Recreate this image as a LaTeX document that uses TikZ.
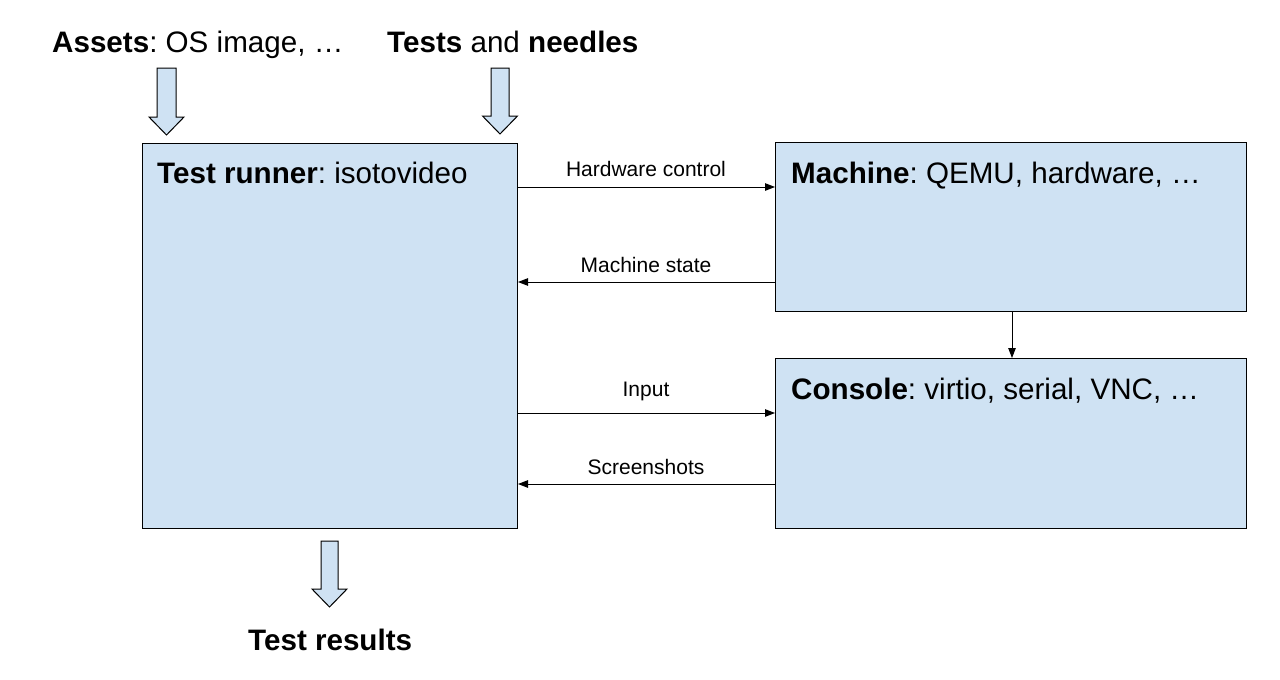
\documentclass[tikz,border=0pt]{standalone}
\usepackage{fontspec}
\setmainfont{Liberation Sans}
\usetikzlibrary{arrows.meta}
\definecolor{boxfill}{HTML}{CFE2F3}
\frenchspacing
\tikzset{
  box/.style={draw=black, fill=boxfill, line width=1pt, inner sep=0pt, anchor=north west},
  big/.style={font=\fontsize{29.6}{35}\selectfont\frenchspacing, inner sep=0pt, anchor=base west},
  small/.style={font=\fontsize{21}{25}\selectfont, inner sep=0pt, anchor=base},
  conn/.style={line width=1pt, -{Triangle[length=10pt,width=7.5pt]}},
  blockarrow/.style={draw=black, fill=boxfill, line width=1pt, line join=miter},
  pics/barrow/.style args={#1/#2}{code={
    \path[blockarrow] (-#1,0) -- (#1,0) -- (#1,#2-18) -- (17.5,#2-18) -- (0,#2) -- (-17.5,#2-18) -- (-#1,#2-18) -- cycle;
  }}
}
\begin{document}
\begin{tikzpicture}[x=1pt,y=-1pt]
\useasboundingbox[fill=white] (0,0) rectangle (1280,680);

% boxes
\node[box, minimum width=375pt, minimum height=385pt] (runner) at (142,143) {};
\node[box, minimum width=471pt, minimum height=169pt] (machine) at (775,142) {};
\node[box, minimum width=471pt, minimum height=170pt] (console) at (775,358) {};

% box texts
\node[big] (trtext) at (157,183) {\textbf{Test runner}: isotovideo};
\node[big] (mtext) at (791,183) {\textbf{Machine}: QEMU, hardware, …};
\node[big] (ctext) at (791,399) {\textbf{Console}: virtio, serial, VNC, …};

% outer texts
\node[big] (assets) at (52,52) {\textbf{Assets}: OS image, …};
\node[big] (tests) at (387,52) {\textbf{Tests} and \textbf{needles}};
\node[big] (results) at (248,650) {\textbf{Test results}};

% block arrows
\pic at (166.5,68) {barrow={9.5/67}};
\pic at (500,68) {barrow={9/66}};
\pic at (329.5,541) {barrow={8.5/66}};

% connectors
\coordinate (yhc) at (0,187);
\coordinate (yms) at (0,282);
\coordinate (yin) at (0,413);
\coordinate (ysc) at (0,484);
\coordinate (xv) at (1012,0);

\draw[conn] (runner.east |- yhc) -- (machine.west |- yhc);
\draw[conn] (machine.west |- yms) -- (runner.east |- yms);
\draw[conn] (runner.east |- yin) -- (console.west |- yin);
\draw[conn] (console.west |- ysc) -- (runner.east |- ysc);
\draw[conn] (machine.south -| xv) -- (console.north -| xv);

% connector labels
\node[small] (lhc) at (646,176) {Hardware control};
\node[small] (lms) at (646,272) {Machine state};
\node[small] (lin) at (646,396) {Input};
\node[small] (lsc) at (646,474) {Screenshots};
\end{tikzpicture}
\end{document}
